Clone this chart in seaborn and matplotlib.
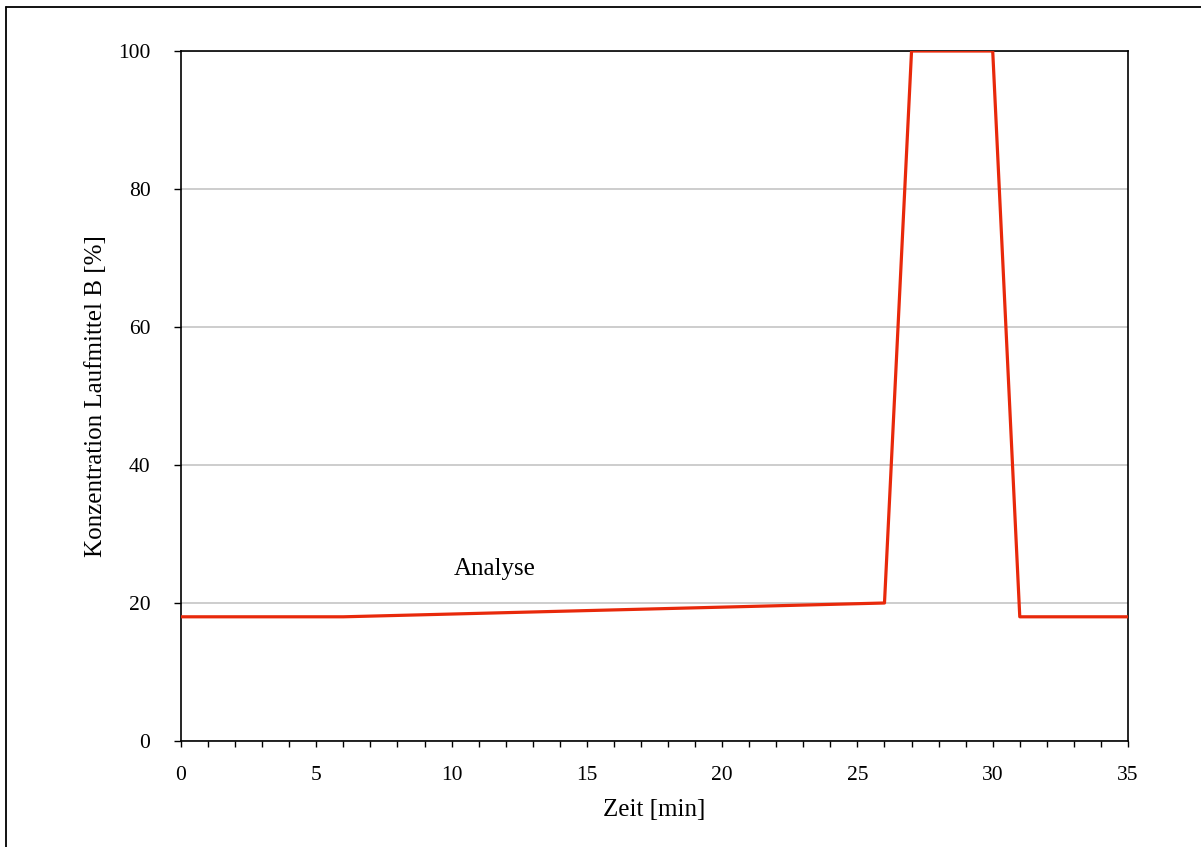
import matplotlib
matplotlib.use("Agg")
import matplotlib.pyplot as plt
from matplotlib.ticker import MultipleLocator
from matplotlib.lines import Line2D
import seaborn as sns
import pandas as pd

zeit = [0, 6, 26, 27, 30, 31, 35]
konz = [18, 18, 20, 100, 100, 18, 18]
x_ticks = [0, 5, 10, 15, 20, 25, 30, 35]
y_ticks = [0, 20, 40, 60, 80, 100]
annotation = "Analyse"

sns.set_theme(style="white")
plt.rcParams['font.family'] = ['Liberation Serif', 'DejaVu Serif']
plt.rcParams['text.color'] = 'black'
plt.rcParams['axes.labelcolor'] = 'black'
plt.rcParams['xtick.color'] = 'black'
plt.rcParams['ytick.color'] = 'black'

df = pd.DataFrame({"Zeit": zeit, "Konz": konz})

fig = plt.figure(figsize=(12.01, 8.47), dpi=100)
ax = fig.add_axes([181/1201, 1-741/847, (1128-181)/1201, (741-51)/847])

sns.lineplot(data=df, x="Zeit", y="Konz", ax=ax, color="#e8290b", linewidth=2.3,
             estimator=None, sort=False, zorder=3)

ax.set_xlim(0, 35)
ax.set_ylim(0, 100)
ax.set_xticks(x_ticks)
ax.set_yticks(y_ticks)
ax.xaxis.set_minor_locator(MultipleLocator(1))
ax.yaxis.grid(True, color="#c0c0c0", linewidth=1.1)
ax.xaxis.grid(False)
ax.set_axisbelow(True)

for s in ax.spines.values():
    s.set_color("black")
    s.set_linewidth(1.2)
    s.set_visible(True)

ax.tick_params(axis="x", which="both", direction="out", length=4, width=1, color="black",
               bottom=True, labelsize=15.5, pad=14, labelcolor="black")
ax.tick_params(axis="y", which="major", direction="out", length=5, width=1, color="black",
               left=True, labelsize=15.5, pad=17, labelcolor="black")

ax.set_xlabel("Zeit [min]", fontsize=18, labelpad=10, color="black")
ax.set_ylabel("Konzentration Laufmittel B [%]", fontsize=18, labelpad=8, color="black")

ax.text(11.6, 25, annotation, fontsize=18, ha="center", va="center", color="black")

# figure frame (left and top edges)
fig.add_artist(Line2D([6/1201, 6/1201], [0, 1-7/847], transform=fig.transFigure,
                      color="black", linewidth=1.3))
fig.add_artist(Line2D([6/1201, 1], [1-7/847, 1-7/847], transform=fig.transFigure,
                      color="black", linewidth=1.3))

fig.savefig("out.png", dpi=100)
